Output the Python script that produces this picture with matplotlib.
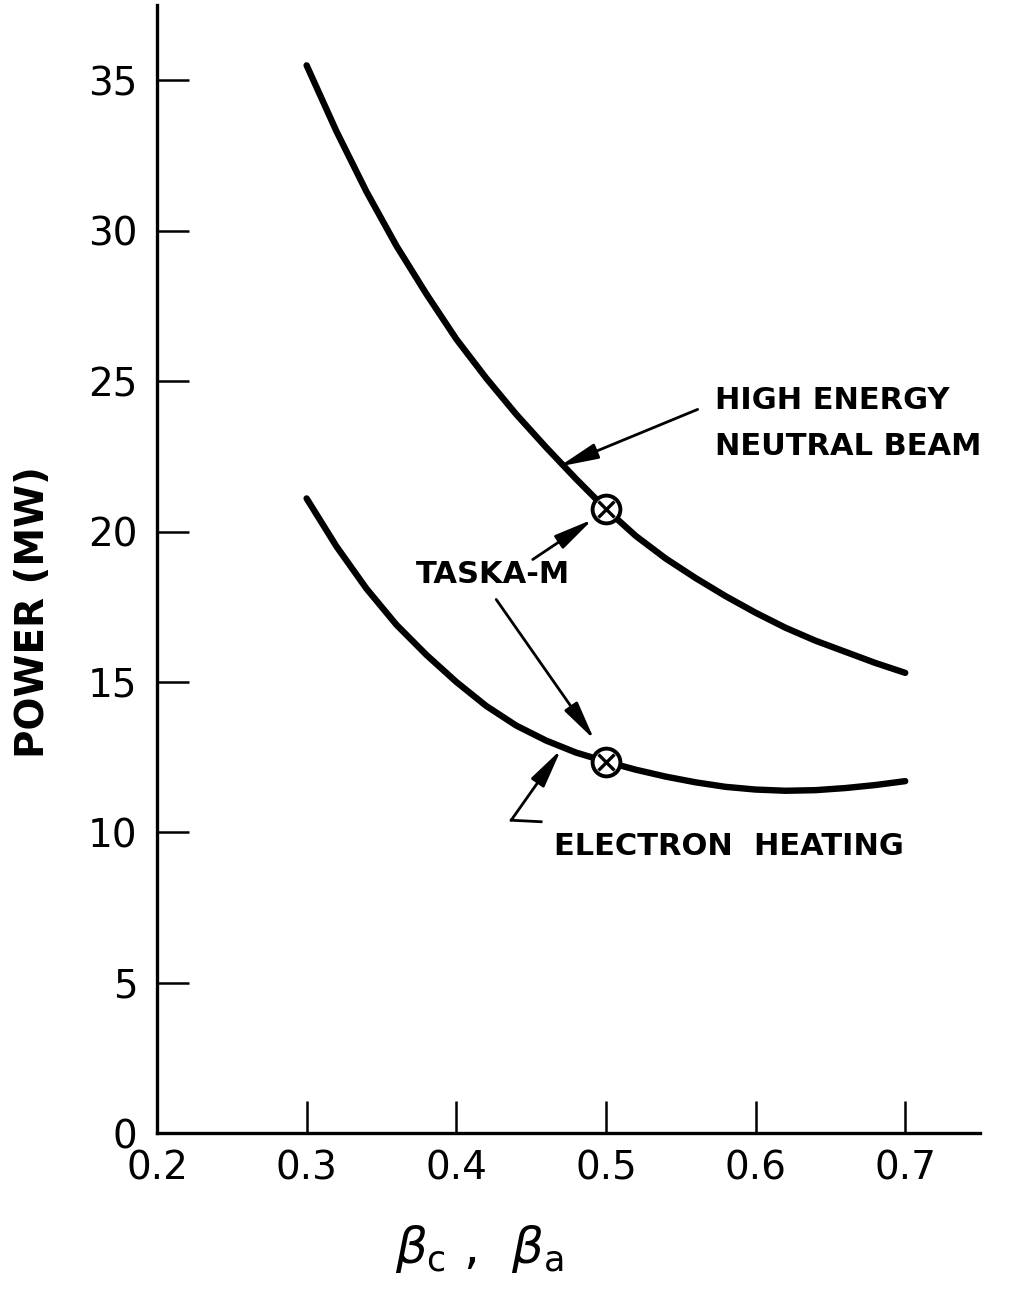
import matplotlib.pyplot as plt

# beta values and heating power (MW) for the two schemes
beta = [0.30, 0.32, 0.34, 0.36, 0.38, 0.40, 0.42, 0.44, 0.46, 0.48, 0.50,
        0.52, 0.54, 0.56, 0.58, 0.60, 0.62, 0.64, 0.66, 0.68, 0.70]
p_neutral_beam = [35.5, 33.3, 31.3, 29.5, 27.9, 26.4, 25.1, 23.9, 22.8, 21.75, 20.75,
                  19.85, 19.1, 18.45, 17.85, 17.3, 16.8, 16.37, 16.0, 15.63, 15.3]
p_electron = [21.1, 19.5, 18.1, 16.9, 15.9, 15.0, 14.2, 13.55, 13.05, 12.65, 12.35,
              12.08, 11.85, 11.66, 11.51, 11.42, 11.38, 11.4, 11.47, 11.57, 11.7]

# design point
taska_beta = 0.50
taska_idx = beta.index(taska_beta)

x_ticks = [0.2, 0.3, 0.4, 0.5, 0.6, 0.7]
y_ticks = [0, 5, 10, 15, 20, 25, 30, 35]

plt.rcParams['font.family'] = ['DejaVu Sans']

fig = plt.figure(figsize=(10.36, 12.94), dpi=100)
ax = fig.add_axes([0.1515, 0.1244, 0.7945, 0.8716])

ax.plot(beta, p_neutral_beam, color='black', linewidth=4.6, solid_capstyle='round', solid_joinstyle='round')
ax.plot(beta, p_electron, color='black', linewidth=4.6, solid_capstyle='round', solid_joinstyle='round')

for p in (p_neutral_beam[taska_idx], p_electron[taska_idx]):
    ax.plot(taska_beta, p, marker='o', markersize=20, markerfacecolor='white',
            markeredgecolor='black', markeredgewidth=2.8, zorder=5)
    ax.plot(taska_beta, p, marker='x', markersize=12, markeredgecolor='black',
            markeredgewidth=2.4, zorder=6)

ax.set_xlim(0.2, 0.75)
ax.set_ylim(0, 37.5)
ax.set_xticks(x_ticks)
ax.set_xticklabels(['0.2', '0.3', '0.4', '0.5', '0.6', '0.7'])
ax.set_yticks(y_ticks)
ax.set_yticklabels([str(v) for v in y_ticks])

for side in ('top', 'right'):
    ax.spines[side].set_visible(False)
for side in ('left', 'bottom'):
    ax.spines[side].set_linewidth(2.4)

ax.tick_params(axis='both', direction='in', length=23, width=1.8, labelsize=28)
ax.tick_params(axis='y', pad=14)
ax.tick_params(axis='x', pad=12)
# no tick at the corner
ax.xaxis.get_major_ticks()[0].tick1line.set_visible(False)
ax.yaxis.get_major_ticks()[0].tick1line.set_visible(False)

ax.set_ylabel('POWER (MW)', fontsize=28, fontweight='bold')
ax.yaxis.set_label_coords(-0.128, 0.462)
ax.set_xlabel(r'$\beta_{\rm c}$ ,  $\beta_{\rm a}$', fontsize=36)
ax.xaxis.set_label_coords(0.392, -0.08)

lbl = dict(fontsize=22, fontweight='bold', color='black')
arrow = dict(arrowstyle='-|>,head_length=0.85,head_width=0.17', color='black', lw=2.0,
             mutation_scale=28, shrinkA=0, shrinkB=0)

ax.text(0.573, 23.6, 'HIGH ENERGY\nNEUTRAL BEAM', ha='left', va='center',
        linespacing=1.75, **lbl)
ax.annotate('', xy=(0.4687, 22.16), xytext=(0.5613, 24.06), arrowprops=arrow)

ax.text(0.4243, 18.57, 'TASKA-M', ha='center', va='center', **lbl)
ax.annotate('', xy=(0.4911, 20.40), xytext=(0.4511, 19.07), arrowprops=arrow)
ax.annotate('', xy=(0.4922, 13.08), xytext=(0.4267, 17.74), arrowprops=arrow)

ax.text(0.4653, 9.52, 'ELECTRON  HEATING', ha='left', va='center', **lbl)
ax.plot([0.4567, 0.4367], [10.35, 10.40], color='black', lw=2.0)
ax.annotate('', xy=(0.4700, 12.75), xytext=(0.4367, 10.40), arrowprops=arrow)

fig.savefig('out.png', dpi=100)
